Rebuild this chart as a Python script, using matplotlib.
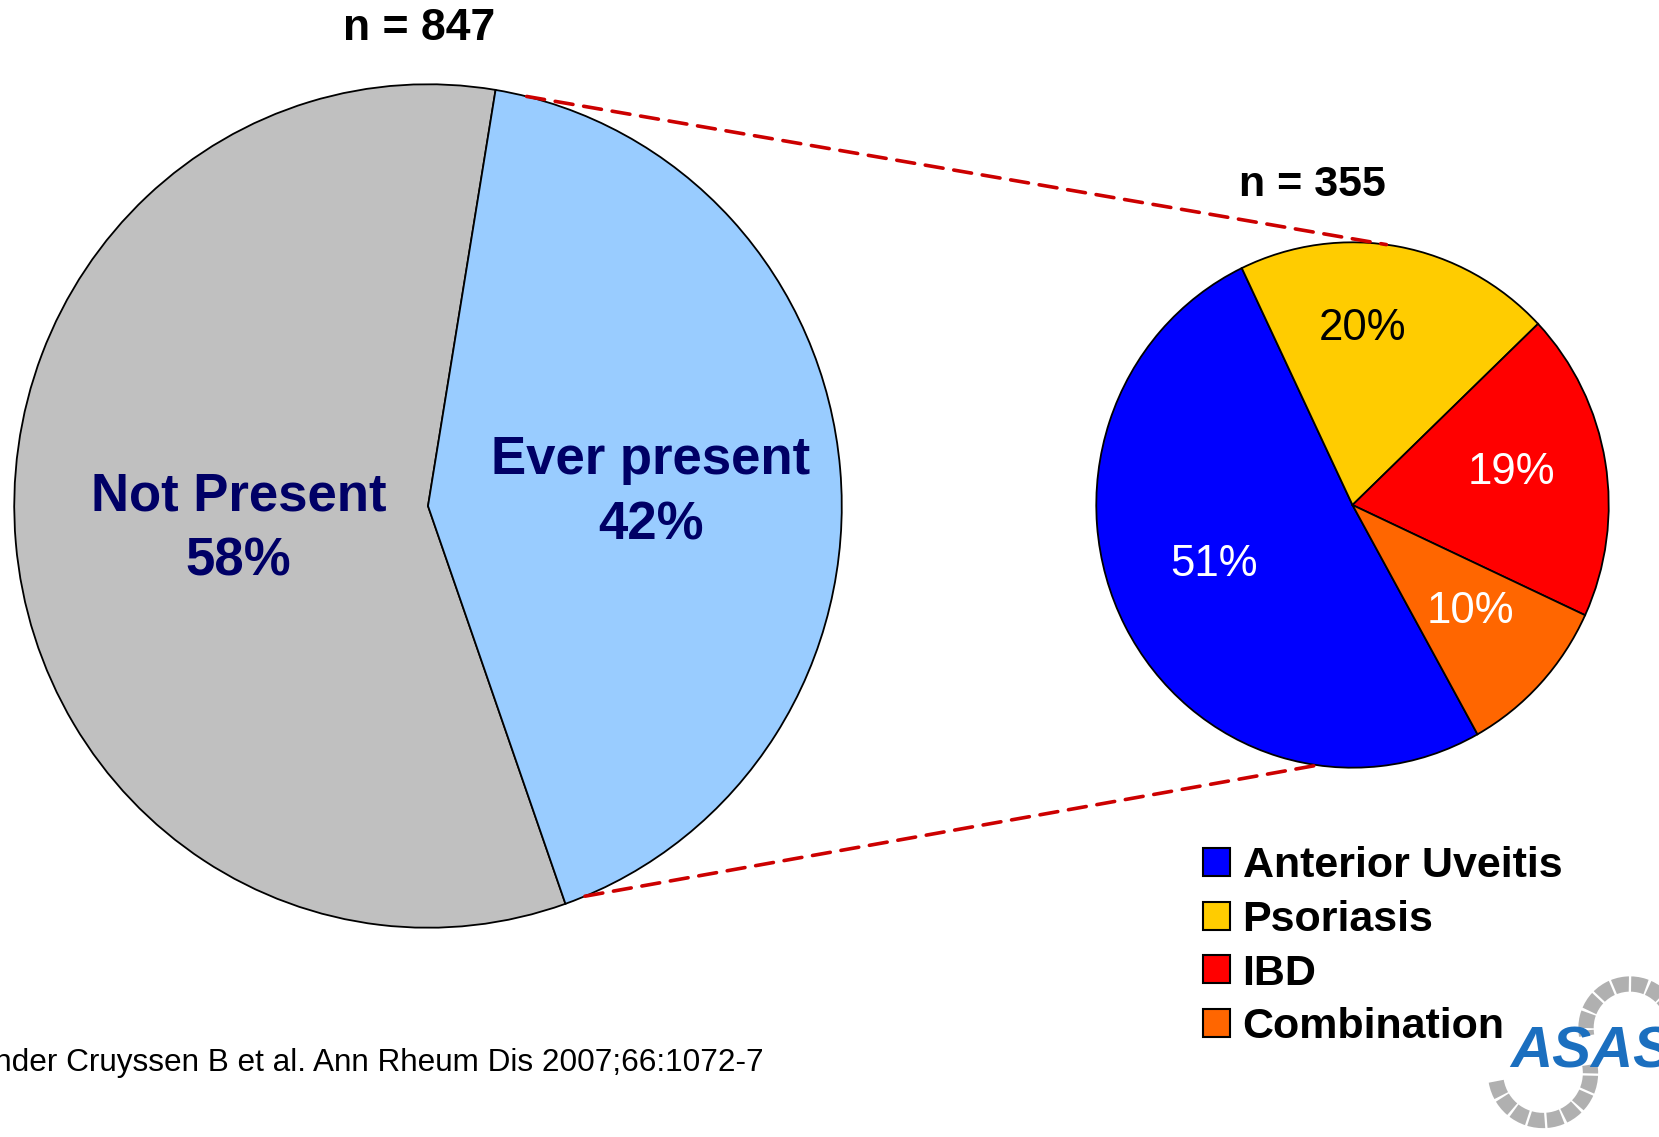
import matplotlib
matplotlib.use("Agg")
import numpy as np
import matplotlib.pyplot as plt
from matplotlib.patches import Patch, Arc, ConnectionPatch

plt.rcParams['font.family'] = ['Liberation Sans', 'DejaVu Sans']

# Data
main_labels = ['Not Present', 'Ever present']
main_values = [58, 42]
main_colors = ['#C0C0C0', '#99CCFF']
main_n = 847

sub_labels = ['Anterior Uveitis', 'Psoriasis', 'IBD', 'Combination']
sub_values = [51, 20, 19, 10]
sub_colors = ['#0000FF', '#FFCC00', '#FF0000', '#FF6600']
sub_text_colors = ['white', 'black', 'white', 'white']
sub_n = 355

citation = 'Vander Cruyssen B et al. Ann Rheum Dis 2007;66:1072-7'

# label placement (fraction of radius) for the big pie
main_label_r = [0.46, 0.54]
# percent label spots inside the small pie (pie units)
sub_label_xy = [(-0.54, -0.225), (0.04, 0.67), (0.62, 0.125), (0.46, -0.405)]

W, H = 1659, 1137
fig = plt.figure(figsize=(W / 100, H / 100), dpi=100)


def px_axes(left, top, right, bottom):
    return fig.add_axes([left / W, 1 - bottom / H, (right - left) / W, (bottom - top) / H])


# big pie
ax1 = px_axes(13, 83, 843, 929)
w1, t1 = ax1.pie(main_values, labels=[f'{l}\n{v}%' for l, v in zip(main_labels, main_values)],
                 colors=main_colors, startangle=80.6, labeldistance=0.5, radius=1,
                 wedgeprops=dict(edgecolor='black', linewidth=1.3),
                 textprops=dict(color='#000066', fontsize=38, fontweight='bold'))
for t, w, r in zip(t1, w1, main_label_r):
    ang = np.radians((w.theta1 + w.theta2) / 2)
    t.set_position((r * np.cos(ang), r * np.sin(ang) - 0.015))
    t.set_ha('center')
    t.set_va('center')
    t.set_linespacing(1.39)
ax1.set_aspect('auto')
ax1.set_xlim(-1.003, 1.003)
ax1.set_ylim(-1.003, 1.003)
ax1.axis('off')

# small pie
ax2 = px_axes(1095, 241, 1610, 769)
w2, t2, a2 = ax2.pie(sub_values, colors=sub_colors, startangle=-60.8, counterclock=False,
                     autopct='%d%%', pctdistance=0.63,
                     wedgeprops=dict(edgecolor='black', linewidth=1.3),
                     textprops=dict(fontsize=31.5))
for a, c, xy in zip(a2, sub_text_colors, sub_label_xy):
    a.set_color(c)
    a.set_position(xy)
ax2.set_aspect('auto')
ax2.set_xlim(-1.005, 1.005)
ax2.set_ylim(-1.005, 1.005)
ax2.axis('off')

# connector lines
for a_big, a_small in [(76.2, 82.4), (-67.7, -97.9)]:
    p1 = (np.cos(np.radians(a_big)), np.sin(np.radians(a_big)))
    p2 = (np.cos(np.radians(a_small)), np.sin(np.radians(a_small)))
    con = ConnectionPatch(xyA=p1, coordsA=ax1.transData, xyB=p2, coordsB=ax2.transData,
                          color='#CC0000', linewidth=2.6, linestyle=(0, (5, 3)))
    fig.add_artist(con)

# titles
fig.text(419 / W, 1 - 29 / H, f'n = {main_n}', ha='center', va='center',
         fontsize=32, fontweight='bold')
fig.text(1312 / W, 1 - 185 / H, f'n = {sub_n}', ha='center', va='center',
         fontsize=31, fontweight='bold')

# legend
handles = [Patch(facecolor=c, edgecolor='black', linewidth=1.5) for c in sub_colors]
leg = fig.legend(handles, sub_labels, loc='upper left', bbox_to_anchor=(1203 / W, 1 - 846 / H),
                 frameon=False, fontsize=31, handlelength=0.62, handleheight=0.62,
                 handletextpad=0.3, labelspacing=0.32, borderpad=0, borderaxespad=0)
for t in leg.get_texts():
    t.set_fontweight('bold')

# citation
fig.text(764 / W, 1 - 1063 / H, citation, ha='right', va='center', fontsize=22.7)

# logo
lax = fig.add_axes([0, 0, 1, 1], zorder=5)
lax.set_xlim(0, W)
lax.set_ylim(0, H)
lax.axis('off')
lax.add_patch(Arc((1543, H - 1073), 95, 95, theta1=190, theta2=370, color='#B0B0B0',
                  linewidth=11, linestyle=(0, (1.0, 0.15))))
lax.add_patch(Arc((1630, H - 1028), 88, 88, theta1=0, theta2=190, color='#B0B0B0',
                  linewidth=11, linestyle=(0, (1.0, 0.15))))
lax.text(1510, H - 1067, 'ASAS', fontsize=42, fontweight='bold', style='italic',
         color='#1B6FBF', ha='left', va='baseline')

fig.savefig('out.png', dpi=100, facecolor='white')
